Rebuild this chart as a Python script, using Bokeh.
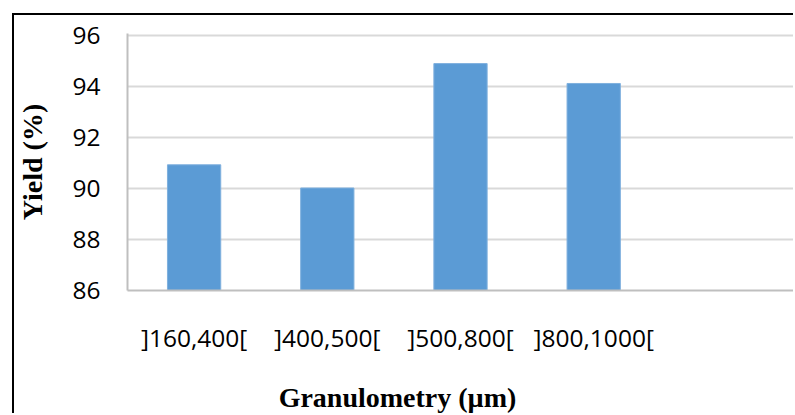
from bokeh.plotting import figure
from bokeh.embed import file_html
from bokeh.resources import INLINE
from bokeh.models import ColumnDataSource, FixedTicker

categories = ["]160,400[", "]400,500[", "]500,800[", "]800,1000[", " "]
yields = [90.93, 90.02, 94.90, 94.12, None]
y_ticks = [86, 88, 90, 92, 94, 96]
x_title = "Granulometry (µm)"
y_title = "Yield (%)"

src = ColumnDataSource(dict(cat=categories[:4], val=yields[:4]))

p = figure(width=781, height=400, x_range=categories, y_range=(86, 96.08),
           output_backend="svg", toolbar_location=None,
           min_border_left=112, min_border_top=18, min_border_right=2,
           min_border_bottom=125, margin=(13, 0, 0, 12))
p.styles = {"border-top": "2px solid black", "border-left": "2px solid black"}

p.vbar(x="cat", top="val", bottom=86, width=0.4, source=src,
       fill_color="#5B9BD5", line_color="#7FB0DE", line_width=1)

p.outline_line_color = None
p.background_fill_color = "white"
p.border_fill_color = "white"

ticker = FixedTicker(ticks=y_ticks)
p.xgrid.grid_line_color = None
p.yaxis.ticker = ticker
p.ygrid.ticker = ticker
p.ygrid.grid_line_color = "#D9D9D9"
p.ygrid.grid_line_width = 2

for ax in (p.xaxis[0], p.yaxis[0]):
    ax.axis_line_color = "#BFBFBF"
    ax.axis_line_width = 2
    ax.major_tick_line_color = None
    ax.minor_tick_line_color = None
    ax.major_tick_out = 0
    ax.major_tick_in = 0
    ax.major_label_text_font = "Open Sans"
    ax.major_label_text_font_size = "24.5px"
    ax.major_label_text_color = "#000000"
    ax.axis_label_text_font = "Liberation Serif"
    ax.axis_label_text_font_style = "bold"
    ax.axis_label_text_font_size = "28px"
    ax.axis_label_text_color = "#000000"

p.yaxis.axis_label = y_title
p.yaxis.major_label_standoff = 27
p.yaxis.axis_label_standoff = 21

# the original centres the x title on the whole chart rather than on the
# plot area; trailing no-break spaces shift the centred label to the left
p.xaxis.axis_label = x_title + "\u00a0" * 18
p.xaxis.major_label_standoff = 30
p.xaxis.axis_label_standoff = 25

open("out.html", "w").write(file_html(p, INLINE))
